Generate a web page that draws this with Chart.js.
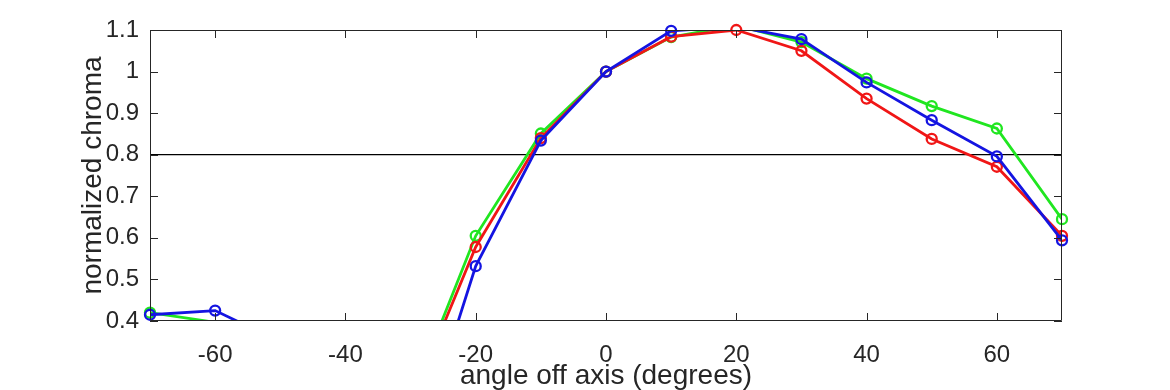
<!DOCTYPE html>
<html>
<head>
<meta charset="utf-8">
<script src="https://cdn.jsdelivr.net/npm/chart.js@4/dist/chart.umd.min.js"></script>
<style>
  html, body { margin: 0; padding: 0; background: #fff; }
  #wrap { width: 1170px; height: 390px; }
</style>
</head>
<body>
<div id="wrap"><canvas id="chromaChart" width="1170" height="390"></canvas></div>
<script>
// angles off axis (degrees)
const angles = [-70, -60, -50, -40, -30, -20, -10, 0, 10, 20, 30, 40, 50, 60, 70];

// normalized chroma per channel
const redValues   = [0.37, 0.36, 0.33, 0.26, 0.20, 0.578, 0.84, 1.0, 1.084, 1.1, 1.05, 0.935, 0.838, 0.771, 0.605];
const greenValues = [0.42, 0.397, 0.33, 0.27, 0.21, 0.605, 0.851, 1.0, 1.083, 1.111, 1.071, 0.983, 0.917, 0.863, 0.645];
const blueValues  = [0.415, 0.425, 0.35, 0.15, 0.04, 0.532, 0.834, 1.0, 1.098, 1.108, 1.078, 0.974, 0.883, 0.796, 0.594];

// reference threshold
const thresholdValue = 0.8;

const xTicks = [-60, -40, -20, 0, 20, 40, 60];
const yTicks = [0.4, 0.5, 0.6, 0.7, 0.8, 0.9, 1.0, 1.1];
const xRange = [-70, 70];
const yRange = [0.4, 1.1];

const axisColor = '#262626';
const fontFamily = '"Liberation Sans", Arial, Helvetica, sans-serif';

const toPoints = vals => vals.map((v, i) => ({ x: angles[i], y: v }));

// line (clipped to the plot) + markers (not clipped, hidden when out of range)
function seriesSets(label, vals, color, order) {
    return [
        {
            label: label + ' markers',
            data: toPoints(vals),
            showLine: false,
            borderColor: color,
            backgroundColor: 'transparent',
            pointRadius: ctx => {
                const y = ctx.raw && ctx.raw.y;
                return (y >= yRange[0] - 1e-9 && y <= yRange[1] + 1e-9) ? 5 : 0;
            },
            pointBorderWidth: 2.3,
            clip: false,
            order: order
        },
        {
            label: label,
            data: toPoints(vals),
            showLine: true,
            borderColor: color,
            borderWidth: 2.8,
            pointRadius: 0,
            clip: 0,
            order: order + 1
        }
    ];
}

// box round the plot with inward ticks
const boxPlugin = {
    id: 'boxPlugin',
    afterDatasetsDraw(chart) {
        const { ctx, chartArea: a, scales: { x, y } } = chart;
        const t = 8;
        ctx.save();
        ctx.strokeStyle = axisColor;
        ctx.lineWidth = 1;
        ctx.beginPath();
        ctx.rect(a.left + 0.5, a.top + 0.5, a.right - a.left - 1, a.bottom - a.top - 1);
        xTicks.forEach(v => {
            const px = Math.round(x.getPixelForValue(v)) + 0.5;
            ctx.moveTo(px, a.bottom); ctx.lineTo(px, a.bottom - t);
            ctx.moveTo(px, a.top); ctx.lineTo(px, a.top + t);
        });
        yTicks.forEach(v => {
            const py = Math.round(y.getPixelForValue(v)) + 0.5;
            ctx.moveTo(a.left, py); ctx.lineTo(a.left + t, py);
            ctx.moveTo(a.right, py); ctx.lineTo(a.right - t, py);
        });
        ctx.stroke();
        ctx.restore();
    }
};

new Chart(document.getElementById('chromaChart'), {
    type: 'scatter',
    data: {
        datasets: [
            ...seriesSets('blue', blueValues, 'rgb(20,20,225)', 1),
            ...seriesSets('red', redValues, 'rgb(240,22,22)', 3),
            ...seriesSets('green', greenValues, 'rgb(32,230,32)', 5),
            {
                label: 'threshold',
                data: xRange.map(a => ({ x: a, y: thresholdValue })),
                showLine: true,
                borderColor: '#000',
                borderWidth: 1.2,
                pointRadius: 0,
                clip: 0,
                order: 7
            }
        ]
    },
    options: {
        responsive: false,
        animation: false,
        events: [],
        layout: { padding: { top: 30, right: 108, left: 0, bottom: 0 } },
        plugins: { legend: { display: false }, tooltip: { enabled: false } },
        scales: {
            x: {
                type: 'linear',
                min: xRange[0],
                max: xRange[1],
                afterBuildTicks: s => { s.ticks = xTicks.map(v => ({ value: v })); },
                afterFit: s => { s.height = 69; },
                grid: { display: false, drawTicks: false },
                border: { display: false },
                ticks: {
                    padding: 20,
                    color: axisColor,
                    font: { family: fontFamily, size: 24 },
                    maxRotation: 0
                },
                title: {
                    display: true,
                    text: 'angle off axis (degrees)',
                    color: axisColor,
                    font: { family: fontFamily, size: 28, lineHeight: 1 },
                    padding: { top: 0, bottom: 0 }
                }
            },
            y: {
                type: 'linear',
                min: yRange[0],
                max: yRange[1],
                afterBuildTicks: s => { s.ticks = yTicks.map(v => ({ value: v })); },
                afterFit: s => { s.width = 150; },
                grid: { display: false, drawTicks: false },
                border: { display: false },
                ticks: {
                    padding: 11,
                    color: axisColor,
                    font: { family: fontFamily, size: 24 },
                    callback: v => String(Math.round(v * 10) / 10)
                },
                title: {
                    display: true,
                    text: 'normalized chroma',
                    color: axisColor,
                    font: { family: fontFamily, size: 28, lineHeight: 1 },
                    padding: { top: 79, bottom: 0 }
                }
            }
        }
    },
    plugins: [boxPlugin]
});
</script>
</body>
</html>
